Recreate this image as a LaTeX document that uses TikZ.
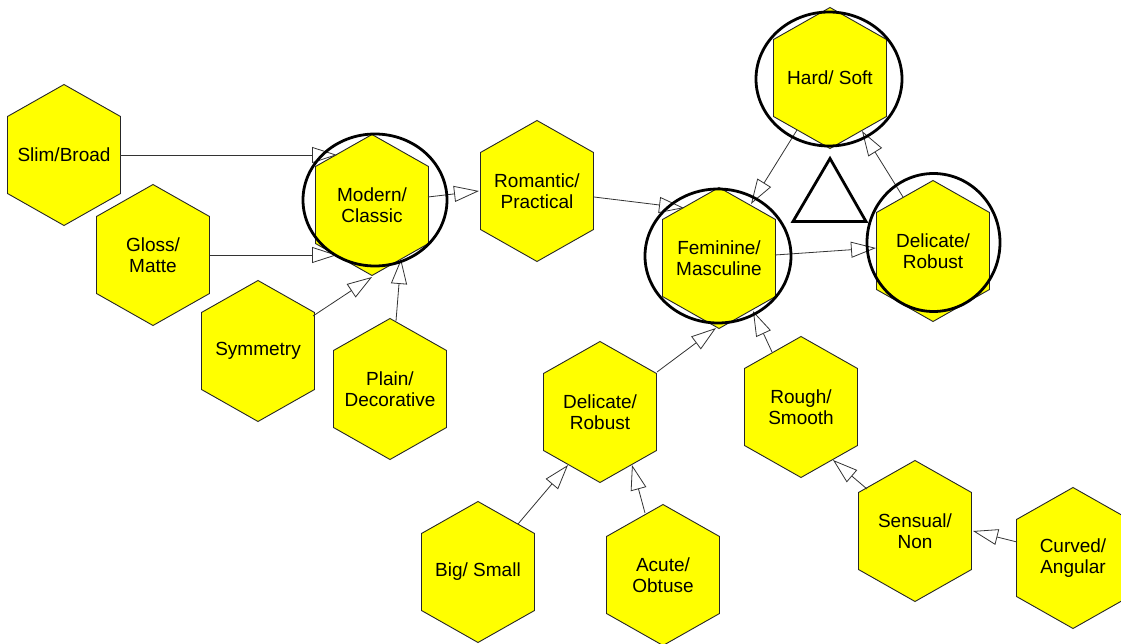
\documentclass[tikz,border=0pt]{standalone}
\usepackage{fontspec}
\setmainfont{Liberation Sans}
\usetikzlibrary{arrows.meta,calc}
\definecolor{hexyellow}{RGB}{255,255,0}
\tikzset{
  hexshape/.style={fill=hexyellow, draw=black!85, line width=0.9pt, line join=miter},
  hexlbl/.style={align=center, font=\fontsize{19}{21.5}\selectfont, inner sep=0pt},
  link/.style={draw=black!80, line width=0.8pt, -{Triangle[length=25pt,width=16pt,fill=white,line width=0.8pt]}},
  ring/.style={draw=black, line width=2.8pt},
}
\newcommand\hexat[4]{%
  \path[hexshape] (#2,#3) +(0,-70.5) -- +(56.5,-38.5) -- +(56.5,38.5) -- +(0,70.5) -- +(-56.5,38.5) -- +(-56.5,-38.5) -- cycle;
  \node[hexlbl] (#1) at (#2,#3) {#4};}
\begin{document}
\begin{tikzpicture}[x=1pt,y=-1pt]
\useasboundingbox (0,0) rectangle (1121,644);
\clip (0,0) rectangle (1121,644);
\fill[white] (0,0) rectangle (1121,644);
\hexat{slim}{64}{155}{Slim/Broad}
\hexat{gloss}{153}{255}{Gloss/\\Matte}
\hexat{sym}{258}{351}{Symmetry}
\hexat{modern}{372}{205}{Modern/\\Classic}
\hexat{plain}{390}{389}{Plain/\\Decorative}
\hexat{romantic}{537}{191}{Romantic/\\Practical}
\hexat{fem}{719}{258}{Feminine/\\Masculine}
\hexat{hard}{830}{78}{Hard/ Soft}
\hexat{delr}{933}{251}{Delicate/\\Robust}
\hexat{delb}{600}{412}{Delicate/\\Robust}
\hexat{rough}{801}{407}{Rough/\\Smooth}
\hexat{big}{478}{572}{Big/ Small}
\hexat{acute}{663}{575}{Acute/\\Obtuse}
\hexat{sensual}{915}{531}{Sensual/\\Non}
\hexat{curved}{1073}{558}{Curved/\\Angular}

\draw[link] ($(slim)+(56,0)$) -- ($(modern)+(-35,-50)$);
\draw[link] ($(gloss)+(57,0)$) -- ($(modern)+(-35,50)$);
\draw[link] ($(sym)+(55,-35)$) -- ($(modern)+(0,72)$);
\draw[link] ($(plain)+(6,-68)$) -- ($(modern)+(29,54)$);
\draw[link] ($(modern)+(56,-8)$) -- ($(romantic)+(-58,0)$);
\draw[link] ($(romantic)+(57,6)$) -- ($(fem)+(-35,-50)$);
\draw[link] ($(hard)+(-33,52)$) -- ($(fem)+(32,-54)$);
\draw[link] ($(fem)+(56,-3)$) -- ($(delr)+(-57,-3)$);
\draw[link] ($(delr)+(-30,-54)$) -- ($(hard)+(32,53)$);
\draw[link] ($(delb)+(57,-40)$) -- ($(fem)+(-3,70)$);
\draw[link] ($(rough)+(-29,-55)$) -- ($(fem)+(34,53)$);
\draw[link] ($(big)+(40,-48)$) -- ($(delb)+(-32,53)$);
\draw[link] ($(acute)+(-18,-62)$) -- ($(delb)+(32,53)$);
\draw[link] ($(sensual)+(-48,-42)$) -- ($(rough)+(32,53)$);
\draw[link] ($(curved)+(-56,-16)$) -- ($(sensual)+(58,0)$);

\draw[ring] ($(modern)+(3,-5)$) ellipse [x radius=72, y radius=66];
\draw[ring] ($(hard)+(-1,1)$) ellipse [x radius=73, y radius=67];
\draw[ring] ($(fem)+(-1,-2)$) ellipse [x radius=73, y radius=67];
\draw[ring] ($(delr)+(0.5,-8.5)$) ellipse [x radius=66.5, y radius=69];

\coordinate (t1) at (830,158.5);
\coordinate (t2) at (793,221.5);
\coordinate (t3) at (866,221.5);
\draw[ring, line join=miter] (t1) -- (t2) -- (t3) -- cycle;
\end{tikzpicture}
\end{document}
